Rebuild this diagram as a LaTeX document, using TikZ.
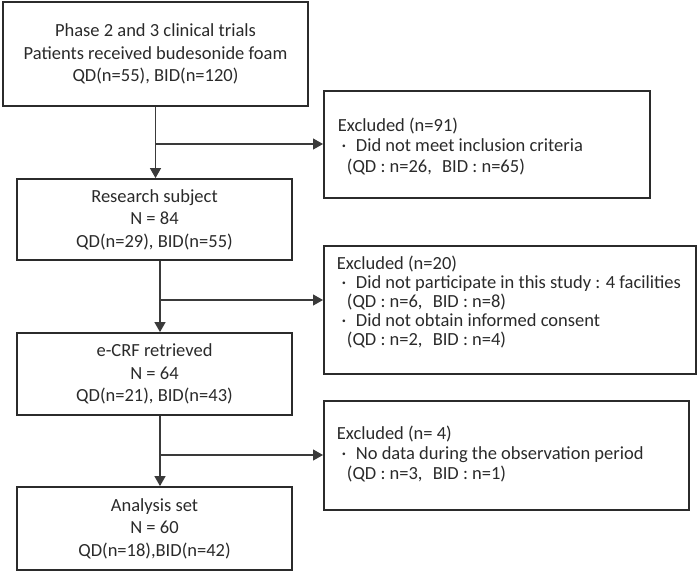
\documentclass[tikz,border=0pt]{standalone}
\usepackage{fontspec}
\setmainfont{Carlito}
\usetikzlibrary{arrows.meta}
\definecolor{boxgray}{HTML}{2B2B2B}
\definecolor{linegray}{HTML}{3A3A3A}
\definecolor{txtgray}{HTML}{2A2A2A}
\begin{document}
\begin{tikzpicture}[x=1pt,y=-1pt,
  box/.style={draw=boxgray,line width=1.8pt,inner sep=0pt,align=center,text=txtgray},
  lbox/.style={box,font=\fontsize{18.5}{22.5}\selectfont},
  conn/.style={draw=linegray,line width=1.2pt},
  arr/.style={conn,-{Triangle[length=10pt,width=11pt]}}]
\useasboundingbox (0,0) rectangle (700,575);

% left column boxes
\node[lbox,minimum width=305pt,minimum height=104pt] (b1) at (155.5,54)
  {Phase 2 and 3 clinical trials\\Patients received budesonide foam\\QD(n=55), BID(n=120)};
\node[lbox,minimum width=275pt,minimum height=81pt] (b2) at (154.5,219.5)
  {Research subject\\N = 84\\QD(n=29), BID(n=55)};
\node[lbox,minimum width=275pt,minimum height=82pt] (b3) at (154.5,374)
  {e-CRF retrieved\\N = 64\\QD(n=21), BID(n=43)};
\node[lbox,minimum width=275pt,minimum height=83pt] (b4) at (154.5,528.5)
  {Analysis set\\N = 60\\QD(n=18),BID(n=42)};

% right column boxes
\node[box,anchor=north west] (A) at (323,90)
  {\parbox[c][107pt][t]{326pt}{\fontsize{18.5}{20.5}\selectfont
   \vspace*{26pt}\strut\hspace*{14pt}Excluded (n=91)\\
   \hspace*{11pt}\makebox[18pt]{·}\hspace{3pt}Did not meet inclusion criteria\\
   \hspace*{23pt}(QD : n=26,\hspace{0.55em}BID : n=65)}};
\node[box,anchor=north west] (B) at (323,245)
  {\parbox[c][128pt][t]{372pt}{\fontsize{18.5}{19}\selectfont
   \vspace*{10pt}\strut\hspace*{13pt}Excluded (n=20)\\
   \hspace*{11pt}\makebox[18pt]{·}\hspace{3pt}Did not participate in this study : 4 facilities\\
   \hspace*{23pt}(QD : n=6,\hspace{0.55em}BID : n=8)\\
   \hspace*{11pt}\makebox[18pt]{·}\hspace{3pt}Did not obtain informed consent\\
   \hspace*{23pt}(QD : n=2,\hspace{0.55em}BID : n=4)}};
\node[box,anchor=north west] (C) at (323,400)
  {\parbox[c][109pt][t]{365pt}{\fontsize{18.5}{20}\selectfont
   \vspace*{25pt}\strut\hspace*{13pt}Excluded (n= 4)\\
   \hspace*{11pt}\makebox[18pt]{·}\hspace{3pt}No data during the observation period\\
   \hspace*{23pt}(QD : n=3,\hspace{0.55em}BID : n=1)}};

% connectors
\draw[arr] (b1.south) -- (b1.south |- b2.north);
\coordinate (j1) at (155.5,144);
\draw[arr] (j1) -- (j1 -| A.west);

\draw[arr] ([xshift=5.5pt]b2.south) -- ([xshift=5.5pt]b3.north);
\coordinate (j2) at (160,300);
\draw[arr] (j2) -- (j2 -| B.west);

\draw[arr] ([xshift=5.5pt]b3.south) -- ([xshift=5.5pt]b4.north);
\coordinate (j3) at (160,455);
\draw[arr] (j3) -- (j3 -| C.west);
\end{tikzpicture}
\end{document}
